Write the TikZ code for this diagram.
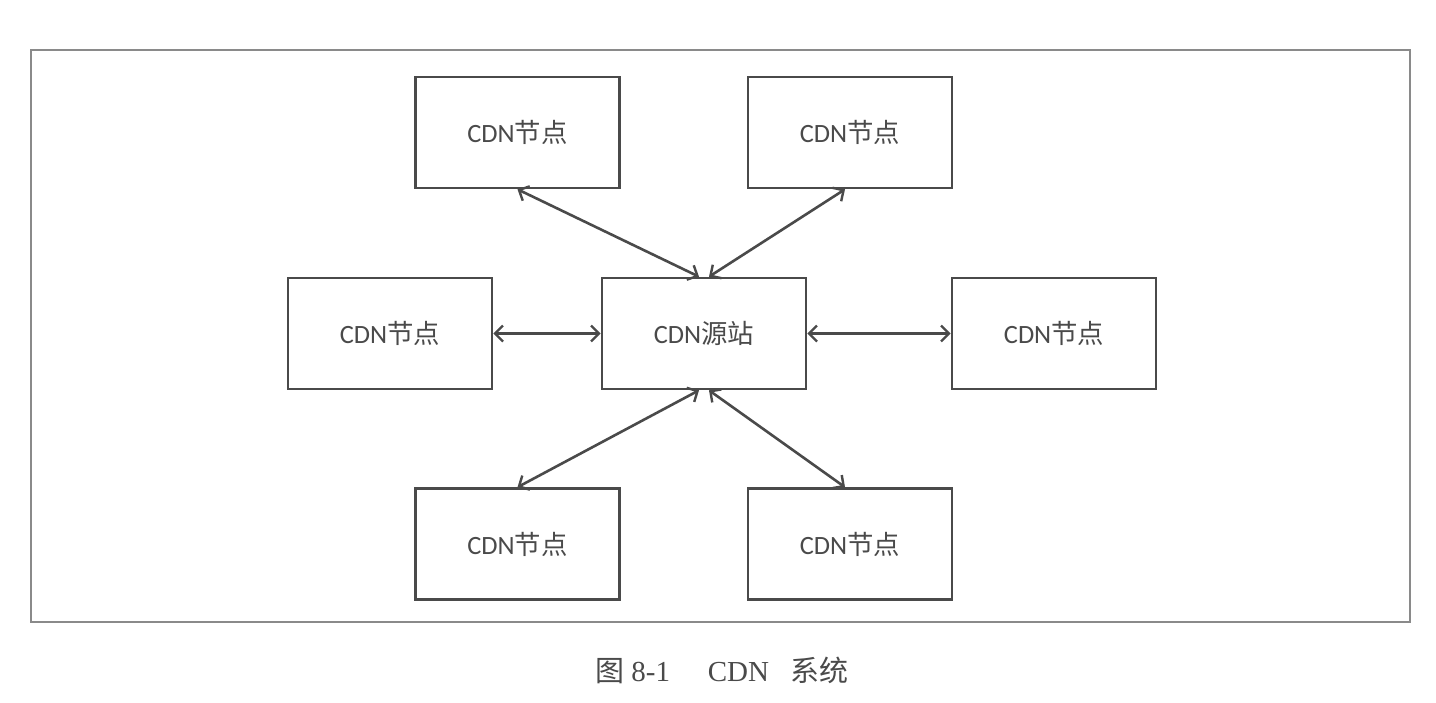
\documentclass[tikz,border=0pt]{standalone}
\usepackage{fontspec}
\setmainfont{Carlito}
\newfontfamily\cjk{Noto Sans CJK SC}
\newfontfamily\capserif{Liberation Serif}
\usetikzlibrary{arrows.meta}
\definecolor{ink}{HTML}{4A4A4A}
\definecolor{frame}{HTML}{8A8A8A}
\begin{document}
\begin{tikzpicture}[x=0.5pt,y=-0.5pt,
  box/.style={draw=ink,line width=1.3pt,minimum width=102pt,minimum height=55.5pt,inner sep=0pt,
    font=\fontsize{13.2}{15}\selectfont,text=ink},
  link/.style={draw=ink,line width=1.3pt,{Straight Barb[length=4pt,width=8pt,line width=1.2pt]}-{Straight Barb[length=4pt,width=8pt,line width=1.2pt]}}]
\useasboundingbox (0,0) rectangle (1436,702);
\fill[white] (0,0) rectangle (1436,702);
\draw[frame,line width=1pt] (31,50) rectangle (1410,622);
\node[box] (tl) at (517.5,132.5) {CDN{\cjk 节点}};
\node[box] (tr) at (850,132.5) {CDN{\cjk 节点}};
\node[box] (l) at (390,333.5) {CDN{\cjk 节点}};
\node[box] (c) at (704,333.5) {CDN{\cjk 源站}};
\node[box] (r) at (1054,333.5) {CDN{\cjk 节点}};
\node[box] (bl) at (517.5,544) {CDN{\cjk 节点}};
\node[box] (br) at (850,544) {CDN{\cjk 节点}};
\draw[link] (tl.south) -- ([xshift=-2.5pt]c.north);
\draw[link] ([xshift=-2.5pt]tr.south) -- ([xshift=2.5pt]c.north);
\draw[link] (l.east) -- (c.west);
\draw[link] (c.east) -- (r.west);
\draw[link] (bl.north) -- ([xshift=-2.5pt]c.south);
\draw[link] ([xshift=-2.5pt]br.north) -- ([xshift=2.5pt]c.south);
\node[font=\fontsize{14.5}{17}\selectfont,text=ink] (cap) at (722,670) {{\cjk 图}\hspace{0.25em}{\capserif 8-1}\hspace{1.3em}{\capserif CDN}\hspace{0.75em}{\cjk 系统}};
\end{tikzpicture}
\end{document}
